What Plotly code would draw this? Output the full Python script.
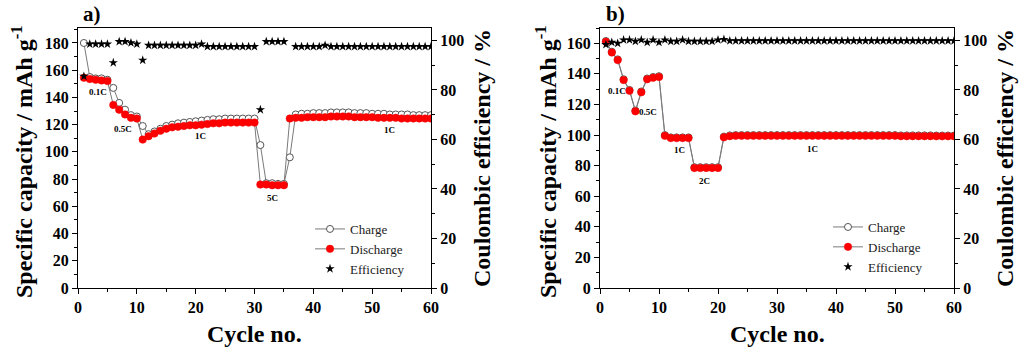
import plotly.graph_objects as go

cycles = list(range(1, 61))

# Panel a
charge_a = [180, 155, 154, 154, 153,
            147, 136, 131, 127, 126,
            119, 113, 115, 117, 119, 120, 121, 121.5, 122, 122.5,
            123, 123.5, 124, 124, 124.5, 124.5, 124.5, 124.5, 124.5, 124.5,
            105, 77, 77, 76.5, 76.5,
            96, 127.5, 128, 128, 128.5, 128.5, 128.5, 129, 129, 129,
            129, 128.5, 128.5, 128.5, 128, 128, 128, 127.5, 127.5, 127.5,
            127.5, 127, 127, 127, 127]
discharge_a = [154.5, 153.5, 153, 152.5, 152,
               134.5, 131, 127.5, 125, 124.5,
               109, 111.5, 113.5, 115.5, 117, 118, 118.5, 119, 119.5, 119.5,
               120, 120.5, 121, 121, 121.5, 121.5, 121.5, 121.5, 121.5, 121.5,
               76, 76, 75.5, 75.5, 75.5,
               124.5, 125, 125, 125.5, 125.5, 125.5, 125.5, 126, 126, 126,
               126, 125.5, 125.5, 125.5, 125.5, 125, 125, 125, 125, 124.5,
               124.5, 124.5, 124.5, 124.5, 124.5]
efficiency_a = [85.5, 98.5, 98.5, 98.5, 98.5,
                91, 99.5, 99.5, 99, 98.5,
                92, 98, 98, 98, 98, 98, 98, 98, 98, 98,
                98.5, 97.5, 97.5, 97.5, 97.5, 97.5, 97.5, 97.5, 97.5, 97.5,
                72, 99.5, 99.5, 99.5, 99.5,
                None, 97.5, 97.5, 97.5, 97.5, 97.5, 98, 97.5, 97.5, 97.5,
                97.5, 97.5, 97.5, 97.5, 97.5, 97.5, 97.5, 97.5, 97.5, 97.5,
                97.5, 97.5, 97.5, 97.5, 97.5]

# Panel b
charge_b = [161.5, 154.5, 149.5, 136.5, 129.5,
            116, 128.5, 137, 138, 138.5,
            100, 98.5, 98.5, 98.5, 98.5,
            79, 79, 79, 79, 79,
            99, 99.8, 100, 100, 100, 100, 100, 100, 100, 100,
            100, 100, 100, 100, 100, 100, 100, 100, 100, 100,
            100, 100, 100, 100, 100, 100, 100, 100, 100, 100,
            99.8, 99.8, 99.8, 99.8, 99.8, 99.8, 99.7, 99.7, 99.7, 99.7]
discharge_b = [161, 154, 149, 136, 129,
               115.5, 128, 136.5, 137.5, 138,
               99.5, 98, 98, 98, 98,
               78.5, 78.5, 78.5, 78.5, 78.5,
               98.5, 99.3, 99.5, 99.5, 99.5, 99.5, 99.5, 99.5, 99.5, 99.5,
               99.5, 99.5, 99.5, 99.5, 99.5, 99.5, 99.5, 99.5, 99.5, 99.5,
               99.5, 99.5, 99.5, 99.5, 99.5, 99.5, 99.5, 99.5, 99.5, 99.5,
               99.3, 99.3, 99.3, 99.3, 99.3, 99.3, 99.2, 99.2, 99.2, 99.2]
efficiency_b = [98.3, 99.2, 98.8, 100.2, 100.2, 99.6, 100.2, 99.2, 100.2, 99.2,
                100.2, 99.6, 99.6, 100.2, 99.6, 99.6, 99.6, 99.6, 99.6, 100.2,
                100.4, 99.8, 99.8, 99.8, 99.8, 99.8, 99.8, 99.8, 99.8, 99.8,
                99.8, 99.8, 99.8, 99.8, 99.8, 99.8, 99.8, 99.8, 99.8, 99.8,
                99.8, 99.8, 99.8, 99.8, 99.8, 99.8, 99.8, 99.8, 99.8, 99.8,
                99.8, 99.8, 99.8, 99.8, 99.8, 99.8, 99.8, 99.8, 99.8, 99.8]

rate_labels_a = ["0.1C", "0.5C", "1C", "5C", "1C"]
rate_x_a = [3.4, 7.6, 20.9, 33.0, 52.9]
rate_y_a = [144, 117, 112, 66, 116]
rate_labels_b = ["0.1C", "0.5C", "1C", "2C", "1C"]
rate_x_b = [2.9, 8.1, 13.4, 17.7, 36.1]
rate_y_b = [129, 115, 90, 70, 91]

W, H = 1024, 353
SERIF = "Liberation Serif"
LINE_GRAY = "#7a7a7a"

fig = go.Figure()

def add_panel(xa, ya, ya2, ch, dis, eff, leg):
    fig.add_trace(go.Scatter(
        x=cycles, y=ch, name="Charge", mode="lines+markers", xaxis=xa, yaxis=ya,
        line=dict(color=LINE_GRAY, width=1),
        marker=dict(symbol="circle", size=7, color="white", line=dict(color="#555555", width=1)),
        legend=leg))
    fig.add_trace(go.Scatter(
        x=cycles, y=dis, name="Discharge", mode="lines+markers", xaxis=xa, yaxis=ya,
        line=dict(color=LINE_GRAY, width=1),
        marker=dict(symbol="circle", size=7.5, color="#ff0000", line=dict(color="#ee0000", width=0.5)),
        legend=leg))
    fig.add_trace(go.Scatter(
        x=cycles, y=eff, name="Efficiency", mode="markers", xaxis=xa, yaxis=ya2,
        marker=dict(symbol="star", size=7, color="black", line=dict(width=0)),
        legend=leg))

add_panel("x", "y", "y2", charge_a, discharge_a, efficiency_a, "legend")
add_panel("x2", "y3", "y4", charge_b, discharge_b, efficiency_b, "legend2")

ybot = (H - 288) / H
ytop = (H - 28) / H
tickfont = dict(family=SERIF, size=16, color="black", weight="bold")

def xaxis_cfg(x0, x1, anchor):
    return dict(domain=[x0 / W, x1 / W], anchor=anchor, range=[0, 60], dtick=10,
                showline=True, linecolor="black", linewidth=1, mirror=True,
                ticks="outside", ticklen=5, tickcolor="black", tickfont=tickfont,
                minor=dict(ticks="outside", ticklen=3, dtick=5, tickcolor="black"),
                showgrid=False, zeroline=False, automargin=False)

def yaxis_cfg(rng, side="left", overlaying=None, anchor=None):
    d = dict(domain=[ybot, ytop], range=rng, dtick=20, side=side,
             showline=True, linecolor="black", linewidth=1,
             ticks="outside", ticklen=5, tickcolor="black", tickfont=tickfont,
             minor=dict(ticks="outside", ticklen=3, dtick=10, tickcolor="black"),
             showgrid=False, zeroline=False, automargin=False)
    if overlaying:
        d["overlaying"] = overlaying
    if anchor:
        d["anchor"] = anchor
    return d

annotations = []
for t, x, y in zip(rate_labels_a, rate_x_a, rate_y_a):
    annotations.append(dict(text=t, x=x, y=y, xref="x", yref="y", showarrow=False,
                            font=dict(family=SERIF, size=9, color="black", weight="bold")))
for t, x, y in zip(rate_labels_b, rate_x_b, rate_y_b):
    annotations.append(dict(text=t, x=x, y=y, xref="x2", yref="y3", showarrow=False,
                            font=dict(family=SERIF, size=9, color="black", weight="bold")))

titlefont = dict(family=SERIF, size=24, color="black", weight="bold")

def paper_ann(text, px, py, angle=0, font=titlefont):
    annotations.append(dict(text=text, x=px / W, y=(H - py) / H, xref="paper", yref="paper",
                            showarrow=False, textangle=angle, font=font,
                            xanchor="center", yanchor="middle"))

paper_ann("Cycle no.", 254, 334)
paper_ann("Cycle no.", 777, 334)
paper_ann("Specific capacity / mAh g<sup>-1</sup>", 22, 162, -90)
paper_ann("Specific capacity / mAh g<sup>-1</sup>", 546, 162, -90)
paper_ann("Coulombic efficiency / %", 482, 158, -90)
paper_ann("Coulombic efficiency / %", 1005, 158, -90)
panelfont = dict(family=SERIF, size=21, color="black", weight="bold")
paper_ann("a)", 92, 14, 0, panelfont)
paper_ann("b)", 615, 14, 0, panelfont)

legfont = dict(family=SERIF, size=13, color="#222222")

fig.update_layout(
    width=W, height=H,
    margin=dict(l=0, r=0, t=0, b=0, pad=0, autoexpand=False),
    paper_bgcolor="white", plot_bgcolor="white",
    xaxis=xaxis_cfg(78, 431, "y"),
    yaxis=yaxis_cfg([0, 191], anchor="x"),
    yaxis2=yaxis_cfg([0, 105], side="right", overlaying="y", anchor="x"),
    xaxis2=xaxis_cfg(600, 954, "y3"),
    yaxis3=yaxis_cfg([0, 170], anchor="x2"),
    yaxis4=yaxis_cfg([0, 105], side="right", overlaying="y3", anchor="x2"),
    legend=dict(x=310 / W, y=(H - 214) / H, xanchor="left", yanchor="top",
                font=legfont, bgcolor="rgba(0,0,0,0)", tracegroupgap=0, itemwidth=30),
    legend2=dict(x=828 / W, y=(H - 212) / H, xanchor="left", yanchor="top",
                 font=legfont, bgcolor="rgba(0,0,0,0)", tracegroupgap=0, itemwidth=30),
    annotations=annotations,
    showlegend=True,
)

fig.write_html("out.html", config={"displayModeBar": False},
               post_script="document.body.style.margin='0';document.body.style.overflow='hidden';")
